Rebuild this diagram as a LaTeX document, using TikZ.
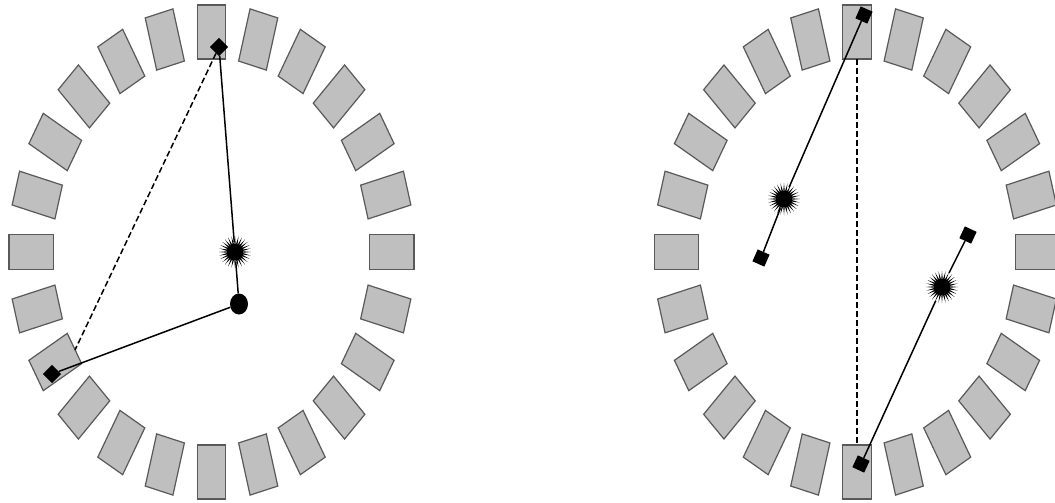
\documentclass[tikz,border=0pt]{standalone}
\usetikzlibrary{shapes.geometric}
\tikzset{
  blk/.style={fill=black!25, draw=black!65, line width=1.2pt},
  ray/.style={line width=1.5pt},
  dashray/.style={line width=1.5pt, dash pattern=on 6pt off 3pt},
  det/.style={rectangle, fill=black, inner sep=0pt, minimum size=13pt},
  burst/.style={star, star points=28, star point ratio=2.2, fill=black, inner sep=0pt, minimum size=32pt},
  annih/.style={ellipse, fill=black, inner sep=0pt, minimum width=18pt, minimum height=21pt}
}
\begin{document}
\begin{tikzpicture}[x=1pt, y=-1pt]
\clip (0,0) rectangle (1055,503);
\fill[white] (0,0) rectangle (1055,503);
% detector rings
\begin{scope}[shift={(211.5,252)}, xscale=0.82]
  \foreach \a in {0,15,...,345} \draw[blk, rotate=\a] (193,-17.5) rectangle (247,17.5);
\end{scope}
\begin{scope}[shift={(857,252)}, xscale=0.82]
  \foreach \a in {0,15,...,345} \draw[blk, rotate=\a] (193,-17.5) rectangle (247,17.5);
\end{scope}
% left ring
\node[det, rotate=45] (dA) at (219,47) {};
\node[burst] (sL) at (235,252) {};
\node[annih] (cL) at (239,304) {};
\node[det, rotate=45] (dB) at (52,374) {};
\coordinate (dashL) at (75,350);
\draw[ray] (dA) -- (sL) -- (cL) -- (dB);
\draw[dashray] (dA) -- (dashL);
% right ring
\node[det, rotate=66] (rA) at (864,15) {};
\node[burst] (rs1) at (784,199) {};
\node[det, rotate=66] (rB) at (761,258) {};
\node[det, rotate=65] (rC) at (968,235) {};
\node[burst] (rs2) at (942,287) {};
\node[det, rotate=65] (rD) at (861,464) {};
\coordinate (dashT) at (857,59);
\coordinate (dashB) at (857,445);
\draw[ray] (rA) -- (rs1) -- (rB);
\draw[ray] (rC) -- (rs2) -- (rD);
\draw[dashray] (dashT) -- (dashB);
\end{tikzpicture}
\end{document}
